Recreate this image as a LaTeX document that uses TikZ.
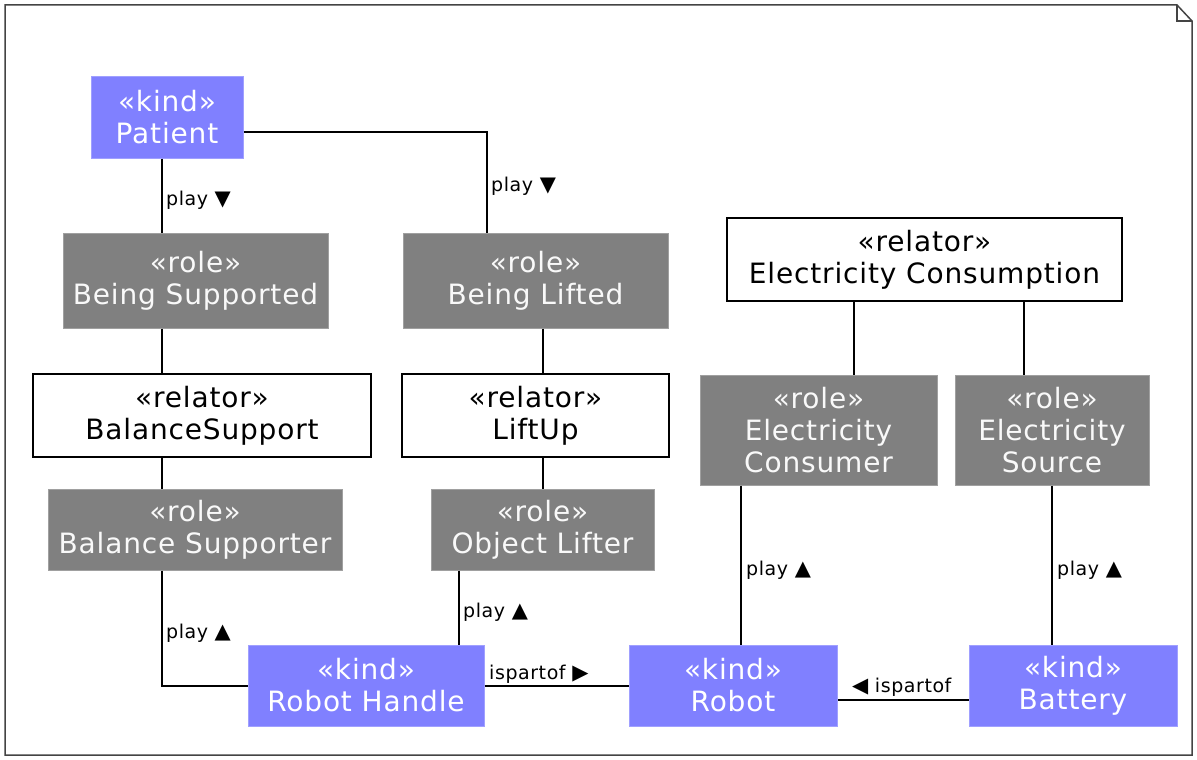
\documentclass[tikz,border=0pt]{standalone}
\usepackage{fontspec}
\setmainfont{DejaVu Sans}
\definecolor{kindblue}{HTML}{8080FF}
\definecolor{kindborder}{HTML}{A0A0FF}
\definecolor{rolegray}{HTML}{808080}
\definecolor{roleborder}{HTML}{A0A0A0}
\definecolor{frameclr}{HTML}{444444}
\tikzset{
  boxbase/.style={rectangle, inner sep=0pt, align=center,
    font=\fontsize{28}{32}\selectfont\addfontfeature{LetterSpace=3}},
  kindbox/.style={boxbase, fill=kindblue, draw=kindborder, line width=1pt, text=white},
  rolebox/.style={boxbase, fill=rolegray, draw=roleborder, line width=1pt, text=white!95!gray},
  relbox/.style={boxbase, fill=white, draw=black, line width=1.3pt, text=black},
  conn/.style={draw=black, line width=1.3pt},
  lbl/.style={inner sep=0pt, font=\fontsize{19}{22}\selectfont\addfontfeature{LetterSpace=3}},
}
\newcommand{\tri}[1]{{\fontsize{21}{22}\selectfont #1}}
\begin{document}
\begin{tikzpicture}[x=1pt,y=-1pt]
\useasboundingbox (0,0) rectangle (1197,760);
% frame with folded corner
\draw[frameclr, line width=1.5pt] (5,5) -- (1177,5) -- (1192,21) -- (1192,755) -- (5,755) -- cycle;
\draw[frameclr, line width=1.5pt] (1177,5) -- (1177,21) -- (1192,21);

% nodes
\node[kindbox, minimum width=152pt, minimum height=81pt] (patient) at (167,117.5) {«kind»\\Patient};
\node[rolebox, minimum width=265pt, minimum height=95pt] (bsupp) at (195.5,280.5) {«role»\\Being Supported};
\node[rolebox, minimum width=265pt, minimum height=95pt] (blift) at (535.5,280.5) {«role»\\Being Lifted};
\node[relbox, minimum width=395pt, minimum height=83pt] (econs) at (924.5,259.5) {«relator»\\Electricity Consumption};
\node[relbox, minimum width=338pt, minimum height=83pt] (balsup) at (202,415.5) {«relator»\\BalanceSupport};
\node[relbox, minimum width=267pt, minimum height=83pt] (liftup) at (535.5,415.5) {«relator»\\LiftUp};
\node[rolebox, minimum width=237pt, minimum height=110pt] (consumer) at (818.5,430) {«role»\\Electricity\\Consumer};
\node[rolebox, minimum width=194pt, minimum height=110pt] (source) at (1052,430) {«role»\\Electricity\\Source};
\node[rolebox, minimum width=294pt, minimum height=81pt] (balsupr) at (195,529.5) {«role»\\Balance Supporter};
\node[rolebox, minimum width=223pt, minimum height=81pt] (objl) at (542.5,529.5) {«role»\\Object Lifter};
\node[kindbox, minimum width=236pt, minimum height=81pt] (handle) at (366,685.5) {«kind»\\Robot Handle};
\node[kindbox, minimum width=208pt, minimum height=81pt] (robot) at (733,685.5) {«kind»\\Robot};
\node[kindbox, minimum width=208pt, minimum height=81pt] (battery) at (1073,685.5) {«kind»\\Battery};

% connectors
\draw[conn] (162,0 |- patient.south) -- (162,0 |- bsupp.north);
\draw[conn] (patient.east |- 0,132) -- (487,132) -- (487,0 |- blift.north);
\draw[conn] (162,0 |- bsupp.south) -- (162,0 |- balsup.north);
\draw[conn] (162,0 |- balsup.south) -- (162,0 |- balsupr.north);
\draw[conn] (162,0 |- balsupr.south) -- (162,686) -- (handle.west |- 0,686);
\draw[conn] (543,0 |- blift.south) -- (543,0 |- liftup.north);
\draw[conn] (543,0 |- liftup.south) -- (543,0 |- objl.north);
\draw[conn] (459,0 |- objl.south) -- (459,0 |- handle.north);
\draw[conn] (handle.east |- 0,686) -- (robot.west |- 0,686);
\draw[conn] (battery.west |- 0,700) -- (robot.east |- 0,700);
\draw[conn] (854,0 |- econs.south) -- (854,0 |- consumer.north);
\draw[conn] (1024,0 |- econs.south) -- (1024,0 |- source.north);
\draw[conn] (741,0 |- consumer.south) -- (741,0 |- robot.north);
\draw[conn] (1052,0 |- source.south) -- (1052,0 |- battery.north);

% labels
\node[lbl, anchor=west] (l1) at (166,200) {play \tri{▼}};
\node[lbl, anchor=west] (l2) at (491,186) {play \tri{▼}};
\node[lbl, anchor=west] (l3) at (166,633) {play \tri{▲}};
\node[lbl, anchor=west] (l4) at (463,612) {play \tri{▲}};
\node[lbl, anchor=west] (l5) at (746,570) {play \tri{▲}};
\node[lbl, anchor=west] (l6) at (1057,570) {play \tri{▲}};
\node[lbl, anchor=west] (l7) at (489,674) {ispartof \tri{▶}};
\node[lbl, anchor=west] (l8) at (852,687) {\tri{◀} ispartof};
\end{tikzpicture}
\end{document}
